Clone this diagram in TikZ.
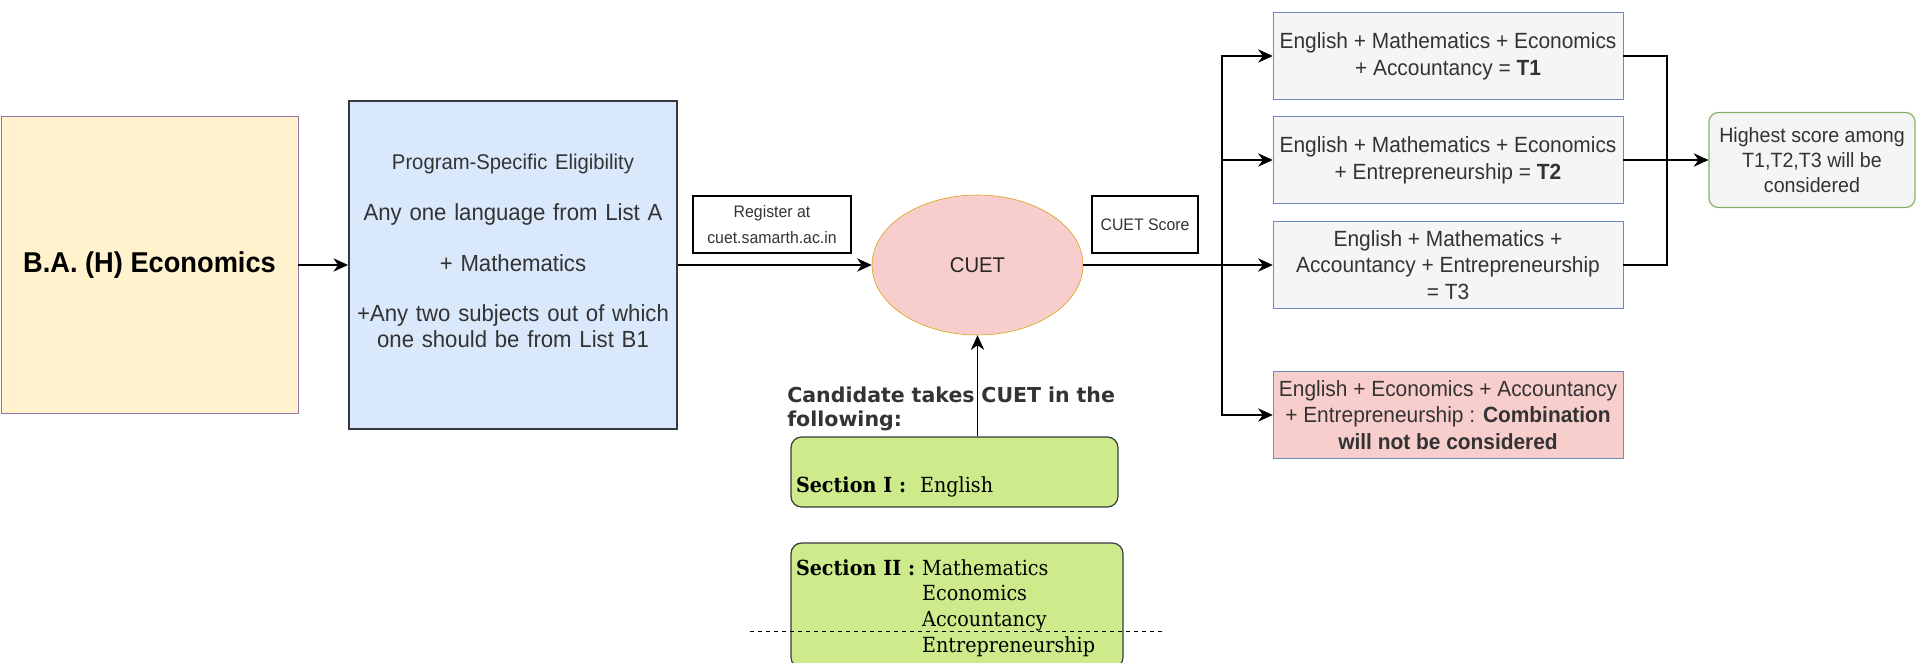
\documentclass[tikz,border=0pt]{standalone}
\usepackage{fontspec}
\setmainfont{Liberation Sans}[FakeStretch=0.95]
\newfontfamily\headfont{DejaVu Sans}
\newfontfamily\secfont{DejaVu Serif}[FakeStretch=0.92]
\usepackage{xcolor}
\usetikzlibrary{shapes.geometric,arrows.meta}

\definecolor{yelFill}{HTML}{FFF2CC}
\definecolor{purLine}{HTML}{9673A6}
\definecolor{bluFill}{HTML}{DAE8FC}
\definecolor{darkLine}{HTML}{36393D}
\definecolor{redFill}{HTML}{F8CECC}
\definecolor{ornLine}{HTML}{D79B00}
\definecolor{grayFill}{HTML}{F5F5F5}
\definecolor{bluLine}{HTML}{6C8EBF}
\definecolor{grnLine}{HTML}{82B366}
\definecolor{grnFill}{HTML}{CDEB8B}
\definecolor{txtGray}{HTML}{333333}

\tikzset{
  box/.style = {draw, rectangle, inner sep=0pt, align=center},
  combo/.style = {box, draw=bluLine, fill=grayFill, text=txtGray, minimum width=262.5pt, minimum height=65.25pt, font=\fontsize{16.5}{20}\selectfont},
  tag/.style = {box, draw=black, line width=0.9pt, minimum height=42.75pt, text=txtGray, font=\fontsize{12.5}{19}\selectfont},
  section/.style = {draw=darkLine, fill=grnFill, rounded corners=8pt, line width=0.9pt, inner xsep=3.75pt, inner ysep=0pt, align=left, font=\secfont\fontsize{15.6}{19.3}\selectfont},
  arr/.style = {-{Stealth[length=11pt,width=10pt,inset=3.5pt]}, line width=1pt},
  link/.style = {line width=1pt}
}

\begin{document}
\begin{tikzpicture}[x=0.75pt, y=-0.75pt]
\useasboundingbox (0,0) rectangle (1917,663);
\clip (0,0) rectangle (1917,663);

\node[box, draw=purLine, fill=yelFill, minimum width=222.75pt, minimum height=222.75pt, font=\bfseries\fontsize{21.5}{26}\selectfont] (ba) at (149.5,265) {B.A. (H) Economics};
\node[box, draw=darkLine, fill=bluFill, line width=1.4pt, text=txtGray, minimum width=246pt, minimum height=246pt, text width=240pt, text height=51.75pt, text depth=194.25pt, font=\fontsize{17.5}{19}\selectfont] (prog) at (513,265)
  {{\fontsize{16}{19}\selectfont Program-Specific Eligibility}\\[19pt]
   Any one language from List A\\[19pt]
   + Mathematics\\[19pt]
   +Any two subjects out of which\\
   one should be from List B1};
\node[tag, minimum width=118.5pt] (reg) at (772,224.5) {Register at\\cuet.samarth.ac.in};
\node[draw=ornLine, fill=redFill, ellipse, inner sep=0pt, minimum width=158.25pt, minimum height=105pt, text=black!85, font=\fontsize{16}{19}\selectfont] (cuet) at (977.5,265) {CUET};
\node[tag, minimum width=79.5pt] (score) at (1145,224.5) {CUET Score};

\node[combo] (t1) at (1448,56) {English + Mathematics + Economics\\+ Accountancy = \textbf{T1}};
\node[combo] (t2) at (1448,160) {English + Mathematics + Economics\\+ Entrepreneurship = \textbf{T2}};
\node[combo] (t3) at (1448,265) {English + Mathematics +\\Accountancy + Entrepreneurship\\= T3};
\node[combo, fill=redFill] (t4) at (1448,415) {English + Economics + Accountancy\\+ Entrepreneurship : \textbf{Combination}\\\textbf{will not be considered}};
\node[box, draw=grnLine, fill=grayFill, rounded corners=7pt, line width=0.9pt, text=txtGray, minimum width=154.5pt, minimum height=71.25pt, font=\fontsize{15.5}{19}\selectfont] (high) at (1812,160) {Highest score among\\T1,T2,T3 will be\\considered};

\node[anchor=base west, inner sep=0pt, text width=255pt, align=left, text=txtGray, font=\headfont\bfseries\fontsize{15.4}{18}\selectfont] (cand) at (787,402) {Candidate takes CUET in the\\following:};
\node[section, minimum width=245.25pt, minimum height=52.5pt, text width=237.75pt, text height=41.25pt, text depth=11.25pt] (sec1) at (954.5,472) {\textbf{Section I :}\ \ English};
\node[section, minimum width=249pt, minimum height=93.75pt, text width=241.5pt, text height=24pt, text depth=69.75pt] (sec2) at (957,605.5)
  {\textbf{Section II :} Mathematics\\
   \phantom{\textbf{Section II :} }Economics\\
   \phantom{\textbf{Section II :} }Accountancy\\
   \phantom{\textbf{Section II :} }Entrepreneurship};

\coordinate (split) at (1222,265);
\coordinate (join) at (1667,160);
\coordinate (cutA) at (750,631);
\coordinate (cutB) at (1163,631);

\draw[arr] (ba) -- (prog);
\draw[arr] (prog) -- (cuet);
\draw[arr] (sec1.north -| cuet) -- (cuet.south);
\draw[arr] (cuet) -- (t3);
\draw[arr] (split) |- (t1);
\draw[arr] (split) |- (t2);
\draw[arr] (split) |- (t4);
\draw[link] (t1) -| (join);
\draw[link] (t3) -| (join);
\draw[link] (t2) -- (join);
\draw[arr, line width=1.6pt] (join) -- (high);
\draw[dashed, dash pattern=on 3pt off 3pt, line width=0.7pt] (cutA) -- (cutB);

\end{tikzpicture}
\end{document}
